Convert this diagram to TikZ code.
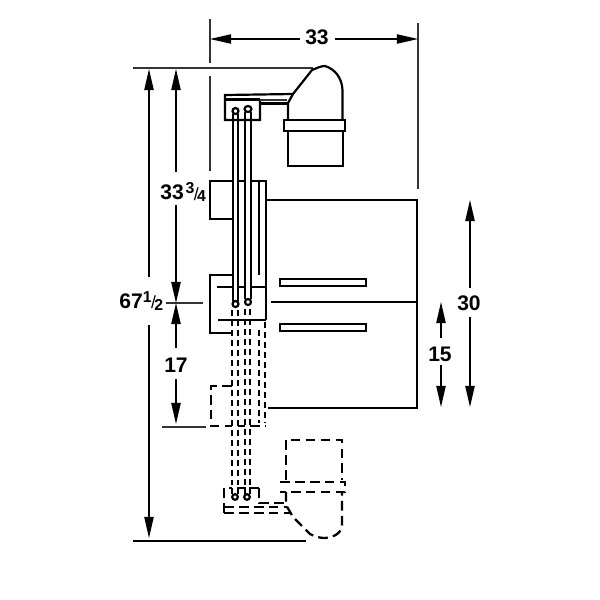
\documentclass[tikz,border=0pt]{standalone}
\usepackage{fontspec}
\setmainfont{Liberation Sans}
\usetikzlibrary{arrows.meta}
\tikzset{
 x=0.02cm,y=-0.02cm,
 solidline/.style={line width=1.25pt,black},
 thinsolid/.style={line width=0.8pt,black!80},
 dashline/.style={line width=1.3pt,black,dash pattern=on 3.4pt off 2.3pt},
 dashlong/.style={line width=1.3pt,black,dash pattern=on 5.5pt off 3pt},
 dimline/.style={line width=0.7pt,black,-{Triangle[length=12pt,width=5.3pt]}},
 extline/.style={line width=0.75pt,black!80},
 dimtext/.style={font=\bfseries\fontsize{12}{14}\selectfont,inner sep=0pt,black},
}
\newcommand{\fracpart}[2]{\raisebox{0.5ex}{\fontsize{9}{9}\selectfont #1}\kern-0.3pt\raisebox{-0.05ex}{\fontsize{10}{9}\selectfont\mdseries /}\kern-0.9pt\raisebox{-0.15ex}{\fontsize{9}{9}\selectfont #2}}
\begin{document}
\begin{tikzpicture}
\useasboundingbox[fill=white] (0,0) rectangle (600,600);
% extension lines
\draw[extline] (210,19)--(210,63) (210,76)--(210,171);
\draw[extline] (418,23)--(418,189);
\draw[extline] (133,68)--(313,68);
\draw[extline] (166,303)--(203,303);
\draw[solidline] (271,302)--(417,302);
\draw[extline] (162,427)--(206,427);
\draw[solidline] (133,541)--(306,541);
\coordinate (t33l) at (210,39); \coordinate (t33r) at (418,39);
\coordinate (a67t) at (149,69); \coordinate (a67b) at (149,538);
\coordinate (a33t) at (176,69); \coordinate (amid) at (176,303); \coordinate (a17b) at (176,424);
\coordinate (a30t) at (470,200); \coordinate (a30b) at (470,407);
\coordinate (a15t) at (441,302); \coordinate (a15b) at (441,407);
% labels
\node[dimtext] (n33) at (317,37) {33};
\node[dimtext,anchor=west] (n67) at (119,301) {67\fracpart{1}{2}};
\node[dimtext,anchor=west] (n333) at (160,192) {33\kern1pt\fracpart{3}{4}};
\node[dimtext] (n17) at (176,365) {17};
\node[dimtext] (n30) at (469,303) {30};
\node[dimtext] (n15) at (440,354) {15};
% dim arrows
\draw[dimline] (300,39)--(t33l);
\draw[dimline] (335,39)--(t33r);
\draw[dimline] (149,277)--(a67t);
\draw[dimline] (149,325)--(a67b);
\draw[dimline] (176,172)--(a33t);
\draw[dimline] (176,205)--(amid);
\draw[dimline] (176,348)--(amid);
\draw[dimline] (176,379)--(a17b);
\draw[dimline] (470,288)--(a30t);
\draw[dimline] (470,317)--(a30b);
\draw[dimline] (441,338)--(a15t);
\draw[dimline] (441,365)--(a15b);
% cabinet
\draw[solidline] (266,200)--(417,200)--(417,408)--(268,408);
\draw[solidline] (280,279) rectangle (366,286);
\draw[solidline] (280,324) rectangle (366,331);
% top fitting
\draw[solidline] (260,100)--(260,120)--(225,120)--(225,95)--(293,94);
\draw[solidline] (225,99.5)--(260,99.5);
\draw[thinsolid] (260,100)--(287,100);
\draw[solidline] (260,103.5)--(288,103.5);
\draw[solidline] (288,120)--(288,103)--(293,94)--(312,70) .. controls (317,68) and (321,66) .. (325,66) .. controls (335,69) and (342,78) .. (342.5,90)--(342.5,120);
\draw[solidline] (284,120) rectangle (345,131);
\draw[solidline] (288,131)--(288,166)--(343,166)--(343,131);
% rods
\draw[solidline] (233,114)--(233,301) (238,114)--(238,301) (245,112)--(245,299) (251,112)--(251,299);
\draw[solidline] (235.5,111) circle (3);
\draw[solidline] (248,109) ellipse (3.5 and 3);
\draw[solidline] (235.5,304) circle (3);
\draw[solidline] (248,302) circle (3);
% blocks
\draw[solidline] (232,181)--(210,181)--(210,219)--(232,219);
\draw[solidline] (238,181)--(245,181) (251,181)--(266,181)--(266,320);
\draw[solidline] (259,181)--(259,275);
\draw[solidline] (232,275)--(210,275)--(210,333)--(232,333);
\draw[solidline] (217,287)--(232,287) (238,287)--(245,287) (251,287)--(266,287);
\draw[solidline] (218,320)--(266,320);
% dashed rods
\foreach \xx/\ya/\yb in {232/310/485,238/310/485,245/309/485,250/309/485,259/330/423,265/322/423}
  \draw[dashline] (\xx,\ya)--(\xx,\yb);
\draw[dashlong] (232,386)--(211,386)--(211,426)--(232,426);
\draw[dashlong] (238,426)--(245,426) (250,426)--(266,426);
% lower fitting
\draw[dashlong] (224,513)--(224,488)--(232,488);
\draw[solidline] (232,488)--(232,494) (238,494)--(238,488)--(245,488)--(245,494) (250,494)--(250,488)--(259,488);
\draw[dashlong] (259,488)--(259,503)--(286,503);
\draw[dashlong] (224,507)--(287,507);
\draw[dashlong] (224,513)--(290,513);
\draw[solidline] (235,497) circle (2.8);
\draw[solidline] (247,497) circle (2.8);
\draw[dashlong] (286,480)--(286,440)--(342,440)--(342,480);
\draw[dashlong] (280,482)--(345,482)--(345,492)--(280,492);
\draw[dashlong] (286,492)--(286,505)--(293,517)--(310,534) .. controls (316,537) and (320,538) .. (325,538) .. controls (336,537) and (342,532) .. (342,524)--(342,492);
\end{tikzpicture}
\end{document}
